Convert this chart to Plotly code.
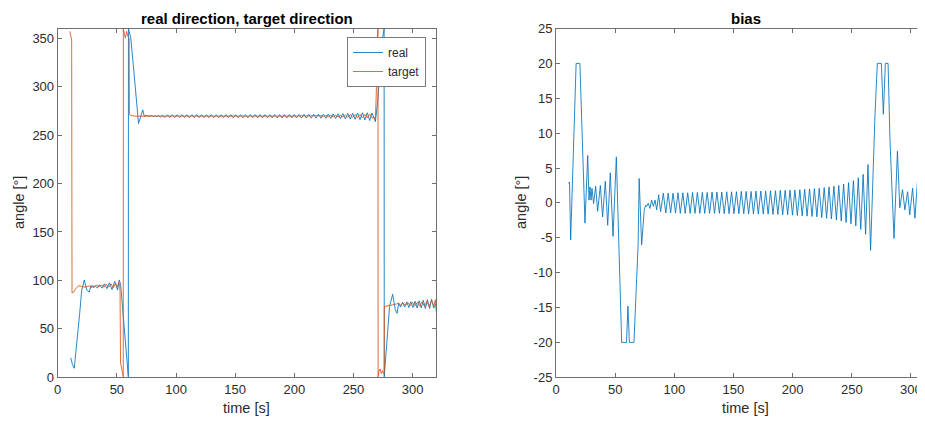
import plotly.graph_objects as go

# ---------------- data ----------------
real_t = [11.0, 12.5, 14.0, 16.6, 18.5, 20.3, 22.5, 24.5, 26.8, 27.9,
          28.7, 29.6, 30.4, 31.8, 33.5, 35.2, 37.5, 39.4, 41.7, 43.7,
          45.9, 48.2, 50.6, 52.0, 53.2, 55.5, 57.5, 59.7, 59.8, 61.7,
          64.0, 66.0, 67.6, 68.3, 69.6, 71.9, 73.3, 74.6, 75.8, 76.6,
          78.0, 79.4, 80.8, 82.3, 83.7, 85.1, 86.8, 88.4,
          90.7, 92.8, 94.8, 96.9, 98.9, 101.0, 103.1, 105.1, 107.2, 109.2,
          111.3, 113.4, 115.4, 117.5, 119.5, 121.6, 123.7, 125.7, 127.8, 129.8,
          131.9, 134.0, 136.0, 138.1, 140.1, 142.2, 144.3, 146.3, 148.4, 150.4,
          152.5, 154.6, 156.6, 158.7, 160.7, 162.8, 164.9, 166.9, 169.0, 171.0,
          173.1, 175.2, 177.2, 179.3, 181.3, 183.4, 185.5, 187.5, 189.6, 191.6,
          193.7, 195.8, 197.8, 199.9, 201.9, 204.0, 206.1, 208.1, 210.2, 212.2,
          214.3, 216.4, 218.4, 220.5, 222.5, 224.6, 226.7, 228.7, 230.8, 232.8,
          234.9, 237.0, 239.0, 241.1, 243.1, 245.2, 247.3, 249.3, 251.4, 253.4,
          255.5, 257.6, 259.6, 261.7, 263.7,
          265.7, 268.5, 270.5, 272.5, 274.5, 275.9, 276.0, 280.5, 283.1, 285.4,
          286.8, 288.2, 289.8, 291.5, 293.3, 295.0, 296.8, 298.5, 300.3, 302.0,
          303.8, 305.5, 307.3, 309.0, 310.8, 312.5, 314.3, 316.0, 317.8, 320.0]
real_v = [20.2, 13.0, 9.3, 38.5, 65.0, 90.0, 100.4, 90.0, 88.0, 94.0,
          92.5, 94.5, 92.5, 94.5, 92.0, 95.5, 92.0, 96.5, 91.5, 97.5,
          90.5, 99.0, 90.0, 100.5, 96.0, 62.0, 33.0, 0.5, 359.5, 351.0,
          321.0, 294.0, 272.0, 262.0, 267.0, 276.0, 269.0, 270.5, 269.8, 270.0,
          269.5, 270.3, 269.1, 270.0, 269.1, 270.5, 268.4, 270.7,
          268.1, 270.95, 268.1, 270.95, 268.1, 270.95, 268.05, 271.0, 268.05, 271.0,
          268.05, 271.0, 268.0, 271.0, 268.0, 271.0, 268.0, 271.0, 268.0, 271.0,
          267.95, 271.0, 267.95, 271.0, 267.95, 271.05, 267.9, 271.05, 267.9, 271.05,
          267.9, 271.05, 267.85, 271.05, 267.85, 271.1, 267.85, 271.1, 267.8, 271.1,
          267.8, 271.1, 267.8, 271.1, 267.75, 271.15, 267.75, 271.15, 267.7, 271.2,
          267.7, 271.2, 267.65, 271.25, 267.65, 271.3, 267.6, 271.35, 267.55, 271.4,
          267.5, 271.45, 267.45, 271.5, 267.4, 271.6, 267.3, 271.7, 267.2, 271.8,
          267.1, 271.95, 267.0, 272.1, 266.8, 272.3, 266.6, 272.5, 266.3, 272.8,
          265.9, 273.0, 265.6, 273.0, 265.0,
          272.8, 263.8, 285.0, 320.0, 350.0, 359.6, 0.5, 73.0, 85.7, 69.5,
          66.0, 76.3, 72.5, 77.5, 72.5, 77.8, 72.0, 78.0, 72.0, 78.5,
          71.5, 79.0, 71.5, 79.5, 71.0, 80.0, 71.0, 80.5, 71.5, 76.0]

target_t = [10.3, 11.8, 12.1, 13.5, 15.0, 17.4, 20.0, 23.0, 26.0, 29.0,
            31.0, 33.0, 35.0, 37.0, 39.0, 41.0, 43.0, 45.0, 47.0, 49.0,
            50.5, 51.5, 52.3, 52.7, 53.1, 54.3, 55.4, 55.5, 56.2, 57.2,
            58.3, 59.3, 60.4, 60.6, 63.0, 66.0, 100.0, 150.0, 200.0,
            222.5, 224.6, 226.7, 228.7, 230.8, 232.8, 234.9, 237.0, 239.0, 241.1,
            243.1, 245.2, 247.3, 249.3, 251.4, 253.4, 255.5, 257.6, 259.6, 261.7,
            263.7, 265.7, 267.5, 268.5, 269.2, 269.7, 270.2, 270.7, 270.8, 271.5,
            272.5, 273.5, 274.5, 275.5, 276.0, 276.1, 279.0, 283.0, 286.0, 288.0,
            290.0, 292.0, 294.0, 296.0, 298.0, 300.0, 302.0, 304.0, 306.0, 308.0,
            310.0, 312.0, 314.0, 316.0, 318.0, 319.2, 320.0]
target_v = [357.0, 348.0, 87.0, 88.0, 91.0, 94.5, 94.0, 93.0, 94.0, 94.5,
            93.5, 95.0, 93.5, 95.5, 93.0, 96.0, 93.0, 96.5, 92.5, 97.0,
            93.0, 98.0, 97.0, 88.0, 15.0, 5.0, 0.5, 359.5, 356.0, 350.0,
            357.0, 352.0, 350.0, 271.0, 270.0, 269.5, 269.6, 269.4, 269.6,
            270.1, 269.0, 270.2, 268.9, 270.3, 268.8, 270.4, 268.7, 270.6, 268.5,
            270.8, 268.4, 271.0, 268.2, 271.2, 268.0, 271.3, 267.8, 271.4, 267.8,
            271.8, 267.5, 268.5, 266.0, 290.0, 340.0, 352.0, 359.5, 0.5, 6.0,
            8.5, 4.0, 7.0, 3.5, 5.0, 73.0, 74.0, 74.8, 75.5, 76.5,
            74.5, 76.8, 74.3, 77.0, 74.0, 77.3, 73.8, 77.5, 73.5, 78.0,
            73.0, 78.5, 73.0, 79.0, 73.5, 80.0, 67.0]

bias_t = [10.5, 11.4, 12.4, 13.8, 17.0, 20.2, 24.5, 26.8, 27.9, 28.7,
          29.6, 30.4, 31.8, 33.5, 35.2, 37.5, 39.4, 41.7, 43.7, 45.9,
          48.2, 51.0, 55.5, 59.6, 60.8, 62.0, 65.9, 69.4, 70.3, 72.4,
          74.6, 75.8, 76.6, 78.0, 79.4, 80.8, 82.3, 83.7, 85.1, 86.8, 88.4,
          90.7, 92.8, 94.8, 96.9, 98.9, 101.0, 103.1, 105.1, 107.2, 109.2,
          111.3, 113.4, 115.4, 117.5, 119.5, 121.6, 123.7, 125.7, 127.8, 129.8,
          131.9, 134.0, 136.0, 138.1, 140.1, 142.2, 144.3, 146.3, 148.4, 150.4,
          152.5, 154.6, 156.6, 158.7, 160.7, 162.8, 164.9, 166.9, 169.0, 171.0,
          173.1, 175.2, 177.2, 179.3, 181.3, 183.4, 185.5, 187.5, 189.6, 191.6,
          193.7, 195.8, 197.8, 199.9, 201.9, 204.0, 206.1, 208.1, 210.2, 212.2,
          214.3, 216.4, 218.4, 220.5, 222.5, 224.6, 226.7, 228.7, 230.8, 232.8,
          234.9, 237.0, 239.0, 241.1, 243.1, 245.2, 247.3, 249.3, 251.4, 253.4,
          255.5, 257.6, 259.6, 261.7, 263.7,
          265.9, 269.6, 271.6, 275.0, 276.7, 278.4, 280.7, 282.3, 285.7, 288.6,
          290.6, 292.9, 294.9, 297.2, 299.0, 301.4, 303.4, 305.6, 307.6, 310.0,
          312.0]
bias_v = [2.8, 3.0, -5.3, 3.2, 20.0, 20.0, -2.9, 6.8, 0.4, 2.3,
          0.4, 2.1, -0.1, 2.4, -1.2, 2.5, -2.0, 3.1, -3.2, 4.3,
          -4.8, 6.6, -20.0, -20.0, -14.8, -20.0, -20.0, -6.0, 3.5, -6.0,
          -1.0, -0.3, -0.5, -0.05, -0.8, 0.4, -0.5, 0.4, -1.0, 1.15, -1.25,
          1.4, -1.45, 1.4, -1.45, 1.4, -1.45, 1.45, -1.5, 1.45, -1.5,
          1.45, -1.5, 1.5, -1.5, 1.5, -1.5, 1.5, -1.5, 1.5, -1.5,
          1.55, -1.5, 1.55, -1.5, 1.55, -1.55, 1.6, -1.55, 1.6, -1.55,
          1.6, -1.55, 1.65, -1.55, 1.65, -1.6, 1.65, -1.6, 1.7, -1.6,
          1.7, -1.6, 1.7, -1.6, 1.75, -1.65, 1.75, -1.65, 1.8, -1.7,
          1.8, -1.7, 1.85, -1.75, 1.85, -1.8, 1.9, -1.85, 1.95, -1.9,
          2.0, -1.95, 2.05, -2.0, 2.1, -2.1, 2.2, -2.2, 2.3, -2.3,
          2.4, -2.45, 2.5, -2.6, 2.7, -2.8, 2.9, -3.0, 3.2, -3.3,
          3.6, -3.8, 4.1, -4.5, 5.5,
          -6.8, 12.5, 20.0, 20.0, 12.7, 20.0, 20.0, 9.0, -5.1, 7.4,
          -0.7, 1.9, -1.0, 1.6, -1.7, 2.1, -2.2, 3.3, -3.4, 3.5,
          -3.6]

left_xticks = [0, 50, 100, 150, 200, 250, 300]
left_yticks = [0, 50, 100, 150, 200, 250, 300, 350]
right_xticks = [0, 50, 100, 150, 200, 250, 300]
right_yticks = [-25, -20, -15, -10, -5, 0, 5, 10, 15, 20, 25]
right_yticklabels = ["-25", "-20", "-15", "-10", "-5", "0", "5", "10", "15", "20", "25"]

titles = ["real direction, target direction", "bias"]
xlabel = "time [s]"
ylabel = "angle [°]"

# ---------------- styling ----------------
# the page body has an 8px default margin, so the figure is 8px smaller
# and all reference pixel positions are shifted by 8px
OFF = 8
WIN_W, WIN_H = 925, 421
FW, FH = WIN_W - OFF, WIN_H - OFF


def px(x):
    return (x - OFF) / FW


def py(y):
    return (WIN_H - y) / FH


BLUE = "#0072BD"
RED = "#D95319"
AX = "#6f6f6f"
TXT = "#2b2b2b"
FONT = "Liberation Sans, Arial, sans-serif"
LW = 0.85

fig = go.Figure()
fig.add_trace(go.Scatter(x=real_t, y=real_v, mode="lines", name="real",
                         line=dict(color=BLUE, width=LW), xaxis="x", yaxis="y"))
fig.add_trace(go.Scatter(x=target_t, y=target_v, mode="lines", name="target",
                         line=dict(color=RED, width=LW), xaxis="x", yaxis="y"))
fig.add_trace(go.Scatter(x=bias_t, y=bias_v, mode="lines", name="bias",
                         showlegend=False,
                         line=dict(color=BLUE, width=LW), xaxis="x2", yaxis="y2"))

ydom = [py(377.3), py(28.5)]
common = dict(showline=True, linecolor=AX, linewidth=1, mirror="ticks",
              ticks="inside", ticklen=4, tickcolor=AX, tickwidth=1,
              showgrid=False, zeroline=False, automargin=False,
              tickfont=dict(family=FONT, size=13, color=TXT))

fig.update_layout(
    template="none",
    width=FW, height=FH,
    margin=dict(l=0, r=0, t=0, b=0, pad=0),
    paper_bgcolor="white", plot_bgcolor="white",
    font=dict(family=FONT, color=TXT),
    xaxis=dict(domain=[px(57.7), px(436.3)], range=[0, 320],
               tickvals=left_xticks, anchor="y", **common),
    yaxis=dict(domain=ydom, range=[0, 360], tickvals=left_yticks,
               anchor="x", **common),
    xaxis2=dict(domain=[px(556.0), 1.0], range=[0, 311.9],
                tickvals=right_xticks, anchor="y2", **common),
    yaxis2=dict(domain=ydom, range=[-25, 25], tickvals=right_yticks,
                ticktext=right_yticklabels, anchor="x2", **common),
    showlegend=True,
    legend=dict(x=px(426), y=py(37), xanchor="right", yanchor="top",
                bgcolor="white", bordercolor="#7a7a7a", borderwidth=1,
                tracegroupgap=0, itemwidth=30,
                font=dict(family=FONT, size=12, color=TXT)),
)

ann = []
for i, cx in enumerate((247, 745.8)):
    ann.append(dict(text="<b>" + titles[i] + "</b>", x=px(cx), y=py(18.3),
                    xref="paper", yref="paper", showarrow=False,
                    xanchor="center", yanchor="middle",
                    font=dict(family=FONT, size=15, color="#000000")))
    ann.append(dict(text=xlabel, x=px(cx), y=py(408), xref="paper",
                    yref="paper", showarrow=False, xanchor="center",
                    yanchor="middle", font=dict(family=FONT, size=14.5, color=TXT)))
for cx in (19, 521):
    ann.append(dict(text=ylabel, x=px(cx), y=py(203), xref="paper",
                    yref="paper", showarrow=False, xanchor="center",
                    yanchor="middle", textangle=-90,
                    font=dict(family=FONT, size=14.5, color=TXT)))
fig.update_layout(annotations=ann)

fig.write_html("out.html")
